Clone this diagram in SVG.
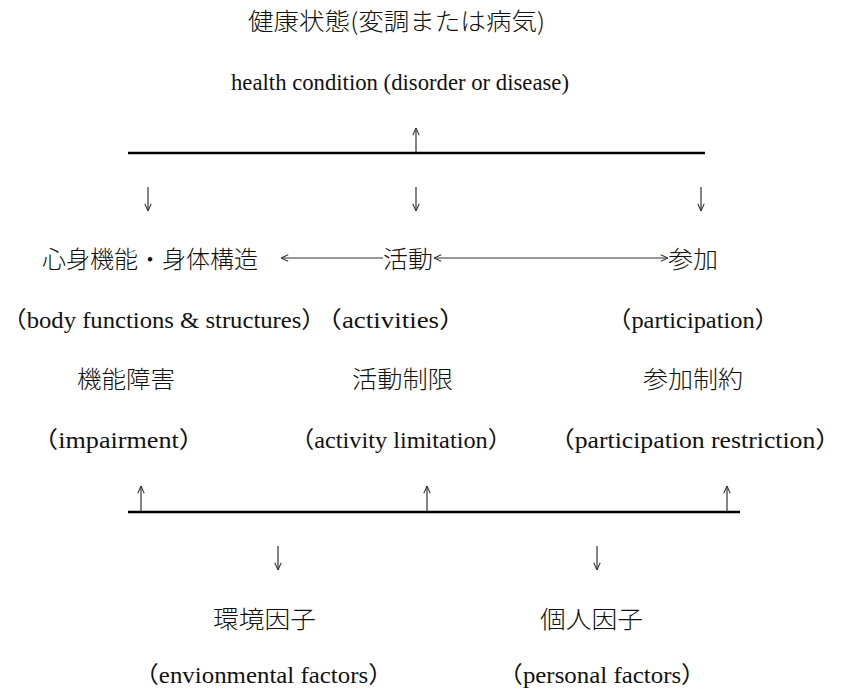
<svg xmlns="http://www.w3.org/2000/svg" width="843" height="690" viewBox="0 0 843 690">
<style>
.cjk{font-family:"Noto Sans CJK JP","Noto Sans CJK SC",sans-serif;font-size:24px;font-weight:300;fill:#111}
.lat{font-family:"Liberation Serif","Noto Sans CJK JP",serif;font-size:23px;fill:#111}
.bar{stroke:#000;stroke-width:2.5}
.arr{stroke:#333;stroke-width:1.2;fill:none;marker-end:url(#ah)}
.arr2{stroke:#333;stroke-width:1.2;fill:none;marker-start:url(#ah);marker-end:url(#ah)}
</style>
<defs>
<marker id="ah" viewBox="0 0 10 10" refX="10" refY="5" markerWidth="8" markerHeight="8" orient="auto-start-reverse" markerUnits="userSpaceOnUse">
<path d="M1,1 L10,5 L1,9" fill="none" stroke="#333" stroke-width="1.3"/>
</marker>
</defs>
<rect width="843" height="690" fill="#fff"/>
<g id="connectors">
<line class="bar" x1="128" y1="153" x2="705" y2="153"/>
<line class="arr" x1="416" y1="152" x2="416" y2="128"/>
<line class="arr" x1="148" y1="187" x2="148" y2="211"/>
<line class="arr" x1="416" y1="187" x2="416" y2="211"/>
<line class="arr" x1="701" y1="187" x2="701" y2="211"/>
<line class="arr" x1="383" y1="258" x2="281" y2="258"/>
<line class="arr2" x1="434" y1="258" x2="668" y2="258"/>
<line class="bar" x1="128" y1="512" x2="740" y2="512"/>
<line class="arr" x1="141" y1="511" x2="141" y2="486"/>
<line class="arr" x1="427" y1="511" x2="427" y2="486"/>
<line class="arr" x1="727" y1="511" x2="727" y2="486"/>
<line class="arr" x1="278" y1="546" x2="278" y2="570"/>
<line class="arr" x1="597" y1="546" x2="597" y2="570"/>
</g>
<g id="health-condition">
<text class="cjk" x="248" y="30" textLength="297" lengthAdjust="spacingAndGlyphs">健康状態(変調または病気)</text>
<text class="lat" x="231" y="90" textLength="338" lengthAdjust="spacingAndGlyphs">health condition (disorder or disease)</text>
</g>
<g id="body-functions">
<text class="cjk" x="42" y="268" textLength="216" lengthAdjust="spacingAndGlyphs">心身機能・身体構造</text>
<text class="lat" x="2" y="328" textLength="324" lengthAdjust="spacingAndGlyphs">（body functions &amp; structures）</text>
<text class="cjk" x="77" y="388" textLength="98" lengthAdjust="spacingAndGlyphs">機能障害</text>
<text class="lat" x="32" y="448" textLength="173" lengthAdjust="spacingAndGlyphs">（impairment）</text>
</g>
<g id="activities">
<text class="cjk" x="383" y="268" textLength="50" lengthAdjust="spacingAndGlyphs">活動</text>
<text class="lat" x="315" y="328" textLength="151" lengthAdjust="spacingAndGlyphs">（activities）</text>
<text class="cjk" x="352" y="388" textLength="101" lengthAdjust="spacingAndGlyphs">活動制限</text>
<text class="lat" x="290" y="448" textLength="222" lengthAdjust="spacingAndGlyphs">（activity limitation）</text>
</g>
<g id="participation">
<text class="cjk" x="668" y="268" textLength="50" lengthAdjust="spacingAndGlyphs">参加</text>
<text class="lat" x="607" y="328" textLength="172" lengthAdjust="spacingAndGlyphs">（participation）</text>
<text class="cjk" x="643" y="388" textLength="100" lengthAdjust="spacingAndGlyphs">参加制約</text>
<text class="lat" x="549" y="448" textLength="292" lengthAdjust="spacingAndGlyphs">（participation restriction）</text>
</g>
<g id="environmental-factors">
<text class="cjk" x="213" y="628" textLength="103" lengthAdjust="spacingAndGlyphs">環境因子</text>
<text class="lat" x="134" y="683" textLength="259" lengthAdjust="spacingAndGlyphs">（envionmental factors）</text>
</g>
<g id="personal-factors">
<text class="cjk" x="540" y="628" textLength="103" lengthAdjust="spacingAndGlyphs">個人因子</text>
<text class="lat" x="498" y="683" textLength="208" lengthAdjust="spacingAndGlyphs">（personal factors）</text>
</g>
</svg>
